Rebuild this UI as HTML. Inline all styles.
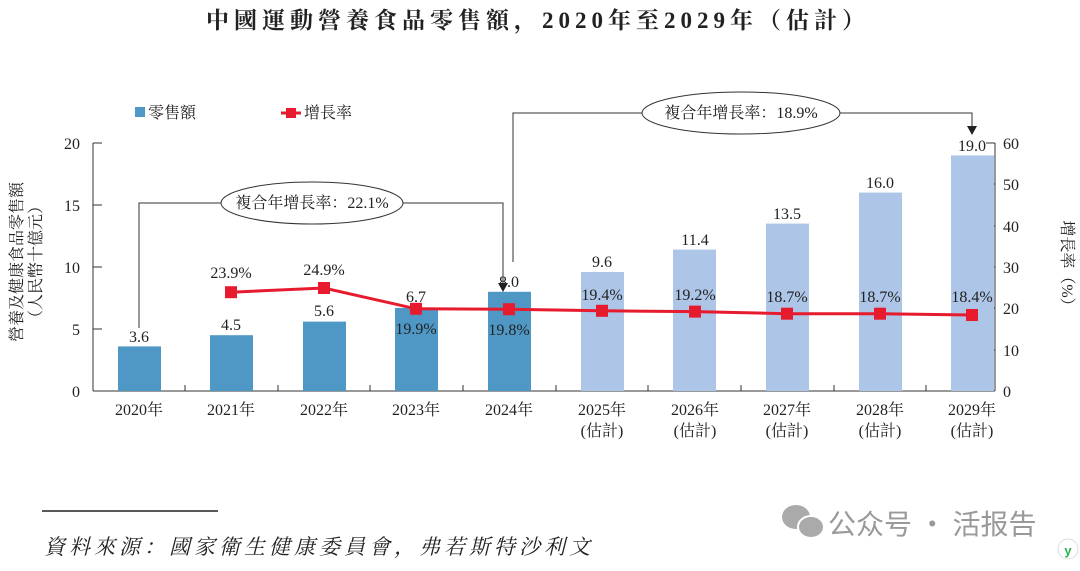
<!DOCTYPE html>
<html><head><meta charset="utf-8"><style>
body{margin:0;background:#fff;width:1080px;height:566px;overflow:hidden}
svg text{font-family:"Liberation Serif","Noto Serif CJK SC",serif;fill:#222}
.cjk{font-family:"Liberation Serif","Noto Serif CJK SC","Noto Sans CJK SC",serif}
</style></head><body>
<svg width="1080" height="566" viewBox="0 0 1080 566" xmlns="http://www.w3.org/2000/svg">
<text x="538" y="28" text-anchor="middle" font-size="23" font-weight="bold" class="cjk" letter-spacing="5">中國運動營養食品零售額，2020年至2029年（估計）</text>
<rect x="135" y="107" width="10" height="10" fill="#4f98c6"/>
<text x="148" y="118" font-size="16" class="cjk">零售額</text>
<line x1="281" y1="113" x2="301" y2="113" stroke="#e61b2e" stroke-width="3"/>
<rect x="286" y="108" width="10" height="10" fill="#e61b2e"/>
<text x="304" y="118" font-size="16" class="cjk">增長率</text>
<g stroke="#333" stroke-width="1" fill="none">
<line x1="93" y1="143" x2="93" y2="391"/>
<line x1="93" y1="391" x2="995" y2="391"/>
<line x1="995" y1="143" x2="995" y2="391"/>
<line x1="93" y1="143" x2="102" y2="143"/><line x1="93" y1="205" x2="102" y2="205"/><line x1="93" y1="267" x2="102" y2="267"/><line x1="93" y1="329" x2="102" y2="329"/>
<line x1="986" y1="143" x2="995" y2="143"/><line x1="986" y1="184" x2="995" y2="184"/><line x1="986" y1="226" x2="995" y2="226"/><line x1="986" y1="267" x2="995" y2="267"/><line x1="986" y1="308" x2="995" y2="308"/><line x1="986" y1="350" x2="995" y2="350"/>
<line x1="185" y1="385" x2="185" y2="391"/><line x1="278" y1="385" x2="278" y2="391"/><line x1="370" y1="385" x2="370" y2="391"/><line x1="463" y1="385" x2="463" y2="391"/><line x1="556" y1="385" x2="556" y2="391"/><line x1="648" y1="385" x2="648" y2="391"/><line x1="741" y1="385" x2="741" y2="391"/><line x1="834" y1="385" x2="834" y2="391"/><line x1="926" y1="385" x2="926" y2="391"/>
</g>
<g font-size="16" text-anchor="end">
<text x="80" y="149">20</text><text x="80" y="211">15</text><text x="80" y="273">10</text><text x="80" y="335">5</text><text x="80" y="397">0</text>
</g>
<g font-size="16" text-anchor="start">
<text x="1003" y="149">60</text><text x="1003" y="190">50</text><text x="1003" y="232">40</text><text x="1003" y="273">30</text><text x="1003" y="314">20</text><text x="1003" y="356">10</text><text x="1003" y="397">0</text>
</g>
<text transform="translate(22,262) rotate(-90)" text-anchor="middle" font-size="16" class="cjk">營養及健康食品零售額</text>
<text transform="translate(41,262) rotate(-90)" text-anchor="middle" font-size="16" class="cjk">（人民幣十億元）</text>
<text transform="translate(1062,267) rotate(90)" text-anchor="middle" font-size="16" class="cjk">增長率（%）</text>
<g>
<rect x="118" y="346.4" width="43" height="44.6" fill="#4f98c6"/>
<rect x="210" y="335.2" width="43" height="55.8" fill="#4f98c6"/>
<rect x="303" y="321.6" width="43" height="69.4" fill="#4f98c6"/>
<rect x="395" y="307.9" width="43" height="83.1" fill="#4f98c6"/>
<rect x="488" y="291.8" width="43" height="99.2" fill="#4f98c6"/>
<rect x="581" y="272" width="43" height="119" fill="#adc5e6"/>
<rect x="673" y="249.6" width="43" height="141.4" fill="#adc5e6"/>
<rect x="766" y="223.6" width="43" height="167.4" fill="#adc5e6"/>
<rect x="859" y="192.6" width="43" height="198.4" fill="#adc5e6"/>
<rect x="951" y="155.4" width="43" height="235.6" fill="#adc5e6"/>
</g>
<g font-size="16" text-anchor="middle">
<text x="139" y="342">3.6</text><text x="231" y="330">4.5</text><text x="324" y="316">5.6</text><text x="416" y="302">6.7</text><text x="509" y="287">8.0</text><text x="602" y="267">9.6</text><text x="695" y="245">11.4</text><text x="787" y="219">13.5</text><text x="880" y="188">16.0</text><text x="972" y="151">19.0</text>
</g>
<polyline fill="none" stroke="#e61b2e" stroke-width="3" points="231,292.2 324,288 416,308.8 509,309.2 602,310.8 695,311.6 787,313.7 880,313.7 972,315"/>
<g fill="#e61b2e">
<rect x="225" y="286.2" width="12" height="12"/><rect x="318" y="282" width="12" height="12"/><rect x="410" y="302.8" width="12" height="12"/><rect x="503" y="303.2" width="12" height="12"/><rect x="596" y="304.8" width="12" height="12"/><rect x="689" y="305.6" width="12" height="12"/><rect x="781" y="307.7" width="12" height="12"/><rect x="874" y="307.7" width="12" height="12"/><rect x="966" y="309" width="12" height="12"/>
</g>
<g font-size="16" text-anchor="middle">
<text x="231" y="278">23.9%</text><text x="324" y="275">24.9%</text><text x="416" y="334">19.9%</text><text x="509" y="335">19.8%</text><text x="602" y="300">19.4%</text><text x="695" y="300">19.2%</text><text x="787" y="302">18.7%</text><text x="880" y="302">18.7%</text><text x="972" y="302">18.4%</text>
</g>
<g stroke="#333" stroke-width="1" fill="none">
<polyline points="139,328 139,203 222,203"/>
<polyline points="402,203 503,203 503,285"/>
<ellipse cx="312" cy="203" rx="91" ry="21" fill="#fff"/>
<polyline points="513,262 513,113 642,113"/>
<polyline points="839,113 972,113 972,128"/>
<ellipse cx="741" cy="113" rx="99" ry="21" fill="#fff"/>
</g>
<path d="M498,283 L508,283 L503,292 Z" fill="#222"/>
<path d="M967,126 L977,126 L972,135 Z" fill="#222"/>
<text x="312" y="208" text-anchor="middle" font-size="16" class="cjk">複合年增長率：22.1%</text>
<text x="741" y="118" text-anchor="middle" font-size="16" class="cjk">複合年增長率：18.9%</text>
<g font-size="16" text-anchor="middle" class="cjk">
<text x="139" y="415">2020年</text><text x="231" y="415">2021年</text><text x="324" y="415">2022年</text><text x="416" y="415">2023年</text><text x="509" y="415">2024年</text>
<text x="602" y="415">2025年</text><text x="695" y="415">2026年</text><text x="787" y="415">2027年</text><text x="880" y="415">2028年</text><text x="972" y="415">2029年</text>
<text x="602" y="436">(估計)</text><text x="695" y="436">(估計)</text><text x="787" y="436">(估計)</text><text x="880" y="436">(估計)</text><text x="972" y="436">(估計)</text>
</g>
<line x1="42" y1="511" x2="218" y2="511" stroke="#222" stroke-width="1.5"/>
<text x="44" y="554" font-size="21" font-style="italic" class="cjk" letter-spacing="4">資料來源：國家衛生健康委員會，弗若斯特沙利文</text>
<ellipse cx="796" cy="517" rx="14" ry="12" fill="#aaa"/>
<ellipse cx="811" cy="527" rx="13" ry="11" fill="#aaa" stroke="#fff" stroke-width="2"/>
<text x="828" y="534" font-size="28" style="fill:#999;font-family:'Noto Sans CJK SC',sans-serif">公众号 · 活报告</text>
<circle cx="1068" cy="549" r="10" fill="#fff" stroke="#ddd"/>
<text x="1068" y="555" text-anchor="middle" font-size="13" font-weight="bold" style="fill:#2bb24c;font-family:'Liberation Sans',sans-serif">y</text>
</svg>
</body></html>
